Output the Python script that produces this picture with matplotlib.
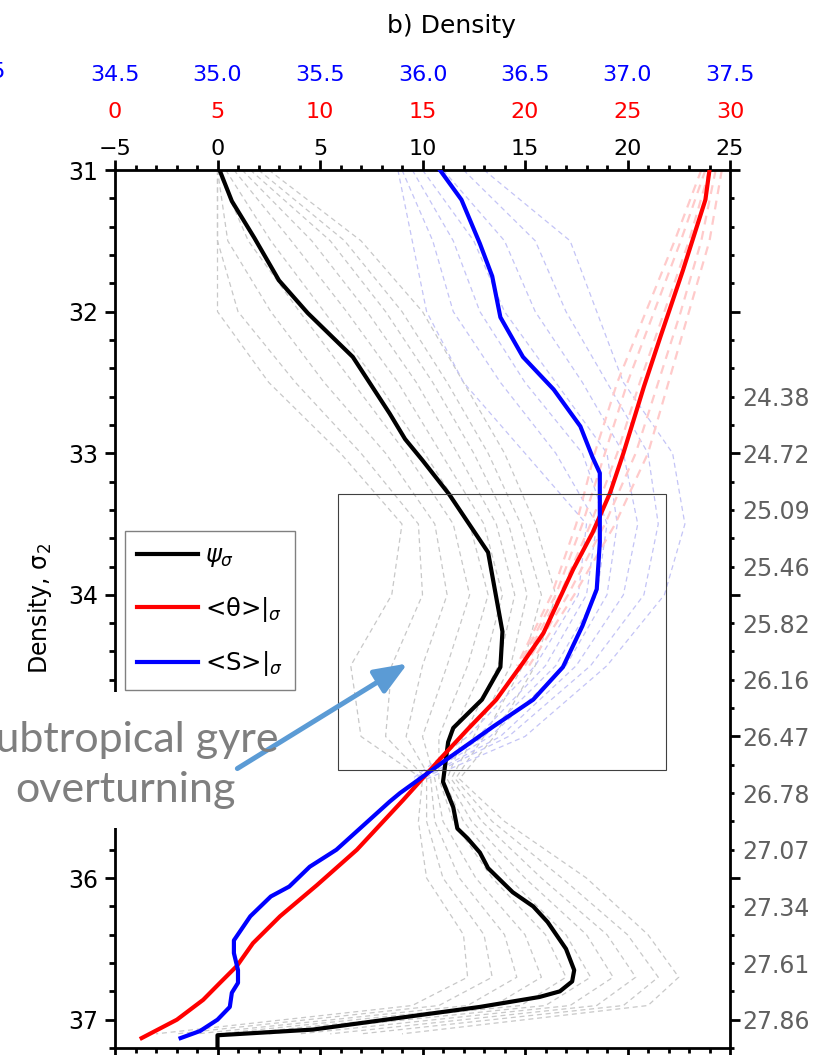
import matplotlib.pyplot as plt
import numpy as np
from matplotlib.lines import Line2D
from matplotlib.patches import Rectangle, FancyArrowPatch
from matplotlib.ticker import MultipleLocator

# zonal-mean overturning streamfunction in density space (Sv)
psi_sig = [31.0, 31.22, 31.48, 31.78, 32.01, 32.32, 32.72, 32.9, 33.05, 33.29, 33.70,
           34.18, 34.26, 34.51, 34.74, 34.94, 35.04, 35.32, 35.5, 35.65, 35.72, 35.82,
           35.93, 36.1, 36.2, 36.31, 36.5, 36.65, 36.73, 36.8, 36.84, 36.91, 37.07,
           37.11, 37.2]
psi = [0.1, 0.7, 1.8, 3.0, 4.4, 6.6, 8.4, 9.15, 10.0, 11.3, 13.2,
       13.8, 13.9, 13.8, 12.9, 11.5, 11.25, 11.0, 11.5, 11.7, 12.2, 12.8,
       13.2, 14.4, 15.4, 16.1, 17.0, 17.4, 17.3, 16.7, 15.7, 12.8, 4.65,
       0.0, 0.0]

# potential temperature averaged on density surfaces (degC)
theta_sig = [31.0, 31.21, 31.71, 32.18, 32.53, 33.0, 33.28, 33.56, 33.82, 34.27, 34.48,
             34.74, 34.95, 35.16, 35.45, 35.8, 36.05, 36.27, 36.46, 36.62, 36.74,
             36.86, 37.0, 37.13]
theta = [29.0, 28.8, 27.7, 26.6, 25.8, 24.8, 24.15, 23.3, 22.35, 20.9, 19.9,
         18.6, 17.2, 15.85, 14.05, 11.8, 9.85, 8.05, 6.73, 5.95, 5.12,
         4.3, 3.02, 1.3]

# salinity averaged on density surfaces
salt_sig = [31.0, 31.21, 31.52, 31.75, 32.04, 32.32, 32.55, 32.81, 33.03, 33.14, 33.63,
            33.96, 34.22, 34.51, 34.74, 34.93, 35.16, 35.4, 35.46, 35.8, 35.92, 36.06,
            36.13, 36.27, 36.44, 36.53, 36.65, 36.74, 36.81, 36.91, 37.0, 37.08, 37.13]
salt = [36.085, 36.19, 36.28, 36.34, 36.38, 36.49, 36.64, 36.77, 36.83, 36.865, 36.865,
        36.85, 36.78, 36.685, 36.54, 36.345, 36.12, 35.89, 35.84, 35.58, 35.45, 35.35,
        35.26, 35.16, 35.08, 35.08, 35.10, 35.10, 35.07, 35.06, 35.0, 34.915, 34.82]

# individual years / members
ens_sig = [31.0, 31.5, 32.0, 32.5, 33.0, 33.5, 34.0, 34.5, 35.0, 35.3, 35.6, 36.0,
           36.4, 36.7, 36.9, 37.1]
psi_ens = [
    [2.5, 7.0, 10.0, 12.0, 14.0, 15.5, 16.5, 15.5, 13.5, 11.8, 14.0, 18.0, 21.0, 22.5, 21.0, 9.0],
    [2.0, 6.2, 9.0, 11.2, 13.2, 14.8, 15.8, 14.9, 13.0, 11.6, 13.4, 16.8, 20.0, 21.5, 19.8, 7.0],
    [1.6, 5.5, 8.2, 10.5, 12.5, 14.2, 15.1, 14.3, 12.5, 11.4, 12.9, 15.8, 19.0, 20.4, 18.5, 5.5],
    [1.2, 4.6, 7.3, 9.7, 11.7, 13.6, 14.5, 13.7, 12.0, 11.2, 12.4, 15.0, 18.0, 19.3, 17.2, 4.0],
    [0.8, 3.6, 6.3, 8.8, 10.9, 13.0, 13.9, 13.0, 11.4, 11.0, 12.0, 14.2, 17.0, 18.2, 16.0, 2.5],
    [0.4, 2.6, 5.2, 7.8, 10.1, 12.3, 13.2, 12.2, 10.8, 10.8, 11.5, 13.4, 16.0, 17.0, 14.8, 1.0],
    [0.0, 1.5, 4.0, 6.6, 9.2, 11.5, 12.3, 11.2, 10.0, 10.6, 11.0, 12.6, 15.0, 15.8, 13.5, 0.0],
    [0.0, 0.5, 2.6, 5.2, 8.2, 10.6, 11.2, 10.0, 9.2, 10.4, 10.6, 11.8, 14.0, 14.6, 12.2, -1.0],
    [0.0, 0.0, 1.0, 3.8, 7.0, 9.8, 10.0, 8.5, 8.2, 10.2, 10.2, 11.0, 13.0, 13.4, 10.8, -2.0],
    [0.0, 0.0, 0.0, 2.5, 6.0, 9.0, 8.5, 6.5, 7.0, 10.0, 9.8, 10.2, 12.0, 12.2, 9.5, -3.0],
]

salt_ens_sig = [31.0, 31.5, 32.0, 32.5, 33.0, 33.5, 34.0, 34.5, 35.0, 35.3]
salt_ens = [
    [36.30, 36.72, 36.85, 36.98, 37.22, 37.28, 37.18, 36.90, 36.50, 36.02],
    [36.20, 36.55, 36.70, 36.90, 37.10, 37.15, 37.08, 36.82, 36.42, 36.00],
    [36.10, 36.40, 36.55, 36.78, 36.98, 37.05, 36.98, 36.75, 36.38, 35.99],
    [36.00, 36.25, 36.40, 36.65, 36.90, 36.95, 36.90, 36.70, 36.33, 35.98],
    [35.95, 36.15, 36.28, 36.50, 36.78, 36.90, 36.85, 36.65, 36.30, 35.97],
    [35.90, 36.05, 36.15, 36.38, 36.65, 36.85, 36.80, 36.60, 36.27, 35.96],
    [35.88, 35.95, 36.02, 36.20, 36.50, 36.80, 36.76, 36.55, 36.22, 35.95],
]

theta_ens_sig = [31.0, 31.5, 32.0, 32.5, 33.0, 33.5, 34.0, 34.5]
theta_ens = [
    [29.6, 29.0, 28.0, 27.0, 26.0, 24.4, 22.4, 20.2],
    [29.3, 28.6, 27.6, 26.5, 25.4, 23.9, 22.1, 20.0],
    [29.0, 28.0, 26.8, 25.6, 24.5, 23.2, 21.7, 19.8],
    [28.8, 27.6, 26.3, 25.0, 23.9, 22.8, 21.5, 19.7],
    [28.6, 27.3, 25.9, 24.5, 23.4, 22.5, 21.3, 19.6],
]

psi_ticks = [-5, 0, 5, 10, 15, 20, 25]
theta_ticks = [0, 5, 10, 15, 20, 25, 30]
salt_ticks = [34.5, 35.0, 35.5, 36.0, 36.5, 37.0, 37.5]
sig2_ticks = [31, 32, 33, 34, 35, 36, 37]
sig0_pos = [32.6, 33.0, 33.4, 33.8, 34.2, 34.6, 35.0, 35.4, 35.8, 36.2, 36.6, 37.0]
sig0_labels = ['24.38', '24.72', '25.09', '25.46', '25.82', '26.16',
               '26.47', '26.78', '27.07', '27.34', '27.61', '27.86']

W, H = 821, 1055
fig = plt.figure(figsize=(W / 100, H / 100), dpi=100)


def fxy(x, y):
    # pixel position (from top-left) -> figure fraction
    return x / W, 1 - y / H


ax = fig.add_axes([115 / W, 1 - 1048 / H, (730 - 115) / W, (1048 - 170) / H])
ax.set_xlim(-5, 25)
ax.set_ylim(37.2, 31)

axT = ax.twiny()
axT.set_xlim(0, 30)
axS = ax.twiny()
axS.set_xlim(34.5, 37.5)

lw_sp = 2.0
for s in ax.spines.values():
    s.set_linewidth(lw_sp)

ax.set_xticks(psi_ticks)
ax.xaxis.set_minor_locator(MultipleLocator(1))
ax.set_yticks(sig2_ticks)
ax.yaxis.set_minor_locator(MultipleLocator(0.2))
ax.tick_params(axis='x', which='both', top=True, bottom=True, labeltop=True,
               labelbottom=False, direction='out', width=lw_sp)
ax.tick_params(axis='x', which='major', length=7.2, pad=1, labelsize=16)
ax.tick_params(axis='x', which='minor', length=3.6)
ax.tick_params(axis='y', which='major', length=7.2, width=lw_sp, pad=5, labelsize=17)
ax.tick_params(axis='y', which='minor', length=4, width=lw_sp)
ax.set_ylabel('Density, σ$_2$', fontsize=17, labelpad=10)

for a, ticks, col, pad in [(axT, theta_ticks, 'red', 34.5), (axS, salt_ticks, 'blue', 61)]:
    a.set_xticks(ticks)
    a.set_xticklabels([('%g' % t) if col == 'red' else ('%.1f' % t) for t in ticks])
    a.tick_params(axis='x', length=0, pad=pad, labelsize=16, labelcolor=col)
    for s in a.spines.values():
        s.set_visible(False)

# right-hand sigma_0 axis
ax2 = ax.twinx()
ax2.set_ylim(37.2, 31)
for s in ax2.spines.values():
    s.set_visible(False)
lab = {round(p, 1): l for p, l in zip(sig0_pos, sig0_labels)}
all_ticks = np.round(np.arange(31, 37.21, 0.2), 1)
maj = [t for t in all_ticks if abs(t - round(t)) < 1e-6]
mnr = [t for t in all_ticks if abs(t - round(t)) >= 1e-6]
ax2.set_yticks(maj, [lab.get(round(t, 1), '') for t in maj])
ax2.set_yticks(mnr, [lab.get(round(t, 1), '') for t in mnr], minor=True)
ax2.tick_params(axis='y', which='major', length=7.2, width=lw_sp, pad=1.5,
                labelsize=17, labelcolor='#606060')
ax2.tick_params(axis='y', which='minor', length=3.0, width=lw_sp, pad=5.7,
                labelsize=17, labelcolor='#606060')

# ensemble members
dash = (0, (4, 3))
for row in psi_ens:
    ax.plot(row, ens_sig, color='#c8c8c8', lw=0.9, ls=dash, zorder=1)
for row in salt_ens:
    ax.plot(row, salt_ens_sig, color='#c4c4f6', lw=0.9, ls=dash, zorder=1,
            transform=axS.transData)
for row in theta_ens:
    ax.plot(row, theta_ens_sig, color='#ffcaca', lw=1.6, ls=dash, zorder=1.1,
            transform=axT.transData)

# time means
ax.plot(psi, psi_sig, color='black', lw=3, zorder=3, solid_joinstyle='round')
ax.plot(theta, theta_sig, color='red', lw=3, zorder=3.1, transform=axT.transData)
ax.plot(salt, salt_sig, color='blue', lw=3, zorder=3.2, transform=axS.transData)

# highlighted region
ax.add_patch(Rectangle((5.9, 33.29), 21.9 - 5.9, 35.24 - 33.29, fill=False,
                       edgecolor='#404040', lw=0.8, zorder=4))

handles = [Line2D([], [], color='black', lw=3),
           Line2D([], [], color='red', lw=3),
           Line2D([], [], color='blue', lw=3)]
labels = [r'$\psi_\sigma$', r'<θ>|$_\sigma$', r'<S>|$_\sigma$']
leg = ax.legend(handles, labels, loc='upper left', bbox_to_anchor=fxy(125, 531),
                bbox_transform=fig.transFigure, borderaxespad=0, fontsize=17.5,
                handlelength=2.5, handletextpad=0.3, labelspacing=1.05,
                borderpad=0.5, fancybox=False, framealpha=1, edgecolor='#808080')
leg.get_frame().set_linewidth(1.0)
leg.set_zorder(6)

# panel title and neighbouring panel's last salinity label
fig.text(*fxy(451, 33), 'b) Density', fontsize=18, ha='center', va='baseline')
fig.text(*fxy(6, 72), '37.5', fontsize=16, color='blue', ha='right', va='center')

# annotation
x0, y0 = fxy(0, 828)
x1, y1 = fxy(290, 692)
fig.patches.append(Rectangle((x0, y0), x1 - x0, y1 - y0, transform=fig.transFigure,
                             facecolor='white', edgecolor='none', zorder=5))
fig.text(*fxy(125, 752), 'Subtropical gyre', fontsize=31, family='Lato',
         color='#7f7f7f', ha='center', va='baseline', zorder=6)
fig.text(*fxy(125, 802), 'overturning', fontsize=31, family='Lato',
         color='#7f7f7f', ha='center', va='baseline', zorder=6)
arrow = FancyArrowPatch(fxy(235, 770), fxy(410, 662), transform=fig.transFigure,
                        arrowstyle='-|>,head_length=1.0,head_width=0.4',
                        mutation_scale=20, color='#5b9bd5', lw=3.6, zorder=6)
fig.patches.append(arrow)

fig.savefig('out.png', dpi=100)
